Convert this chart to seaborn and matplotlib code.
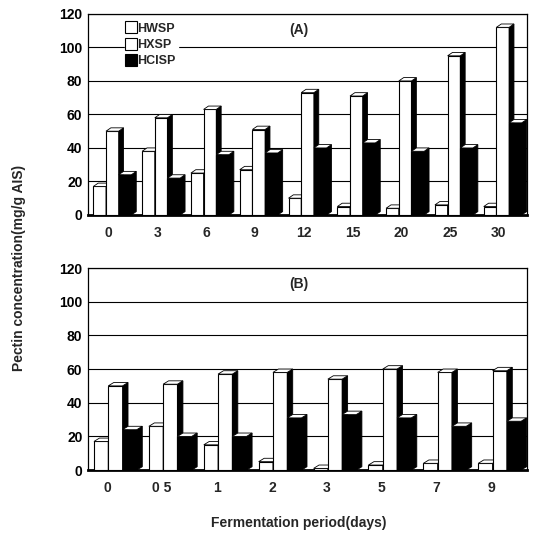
import matplotlib
matplotlib.use("Agg")
import matplotlib.pyplot as plt
from matplotlib.patches import Polygon
import seaborn as sns
import pandas as pd
import numpy as np

# panel A: fermentation days and pectin fractions (mg/g AIS)
days_a = ['0', '3', '6', '9', '12', '15', '20', '25', '30']
hwsp_a = [17, 38, 25, 27, 10, 5, 4, 6, 5]
hxsp_a = [50, 58, 63, 51, 73, 71, 80, 95, 112]
hcisp_a = [24, 22, 36, 37, 40, 43, 38, 40, 55]

# panel B
days_b = ['0', '0 5', '1', '2', '3', '5', '7', '9']
hwsp_b = [17, 26, 15, 5, 1, 3, 4, 4]
hxsp_b = [50, 51, 57, 58, 54, 60, 58, 59]
hcisp_b = [24, 20, 20, 31, 33, 31, 26, 29]

series = ['HWSP', 'HXSP', 'HCISP']
colors = ['white', 'white', 'black']

sns.set_style("white")
plt.rcParams['font.family'] = ['Liberation Sans', 'DejaVu Sans']


def long_df(days, hw, hx, hc):
    rows = []
    for vals, name in zip([hw, hx, hc], series):
        for d, v in zip(days, vals):
            rows.append({'day': d, 'series': name, 'value': v})
    return pd.DataFrame(rows)


def fake3d(ax, dx, dy):
    # side + top faces to mimic the old 3D bar look
    bars = sorted(ax.patches, key=lambda p: p.get_x())
    for i, p in enumerate(bars):
        x0, w, h = p.get_x(), p.get_width(), p.get_height()
        z = 3 + i * 0.01
        p.set_zorder(z)
        side = Polygon([(x0 + w, 0), (x0 + w + dx, dy), (x0 + w + dx, h + dy), (x0 + w, h)],
                       closed=True, facecolor='black', edgecolor='black', lw=0.6, zorder=z)
        top = Polygon([(x0, h), (x0 + dx, h + dy), (x0 + w + dx, h + dy), (x0 + w, h)],
                      closed=True, facecolor='white', edgecolor='black', lw=0.6, zorder=z)
        ax.add_patch(side)
        ax.add_patch(top)


def panel(ax, days, hw, hx, hc, tag, shift):
    df = long_df(days, hw, hx, hc)
    sns.barplot(data=df, x='day', y='value', hue='series', hue_order=series,
                palette=colors, edgecolor='black', linewidth=0.8, width=0.78,
                ax=ax, legend=False)
    fake3d(ax, 0.1, 2.0)
    ax.set_ylim(0, 120)
    ax.set_xlim(-0.5, len(days) - 0.5)
    ax.set_yticks(range(0, 121, 20))
    ax.set_xticks(np.arange(len(days)) - shift)
    ax.set_xticklabels(days)
    ax.yaxis.grid(True, color='black', lw=0.8)
    ax.set_axisbelow(True)
    for s in ax.spines.values():
        s.set_color('black')
        s.set_linewidth(0.9)
    ax.spines['bottom'].set_linewidth(2)
    ax.tick_params(axis='y', direction='out', length=3, width=0.8, colors='black', pad=1)
    ax.tick_params(axis='x', length=0, pad=8)
    for lab in ax.get_xticklabels() + ax.get_yticklabels():
        lab.set_fontsize(10)
        lab.set_fontweight('bold')
    ax.set_xlabel('')
    ax.set_ylabel('')
    ax.text(0.48, 0.92, tag, transform=ax.transAxes, ha='center', va='center',
            fontsize=10, fontweight='bold')


fig = plt.figure(figsize=(5.33, 5.36), dpi=100)
ax1 = fig.add_axes([0.165, 0.599, 0.824, 0.375])
ax2 = fig.add_axes([0.165, 0.123, 0.824, 0.377])

panel(ax1, days_a, hwsp_a, hxsp_a, hcisp_a, '(A)', 0.08)
panel(ax2, days_b, hwsp_b, hxsp_b, hcisp_b, '(B)', 0.15)

handles = [plt.Line2D([], [], marker='s', ls='', markersize=8, markerfacecolor=c,
                      markeredgecolor='black', markeredgewidth=0.8) for c in colors]
leg = ax1.legend(handles, series, loc='upper left', bbox_to_anchor=(0.07, 1.0),
                 frameon=True, facecolor='white', edgecolor='white', framealpha=1,
                 handlelength=0.6, handletextpad=0.2, labelspacing=0.35,
                 borderpad=0.2, prop={'size': 9, 'weight': 'bold'})
leg.set_zorder(10)

fig.text(0.035, 0.5, 'Pectin concentration(mg/g AIS)', rotation=90,
         ha='center', va='center', fontsize=10, fontweight='bold')
fig.text(0.56, 0.024, 'Fermentation period(days)', ha='center', va='center',
         fontsize=10, fontweight='bold')

fig.savefig('out.png', dpi=100)
